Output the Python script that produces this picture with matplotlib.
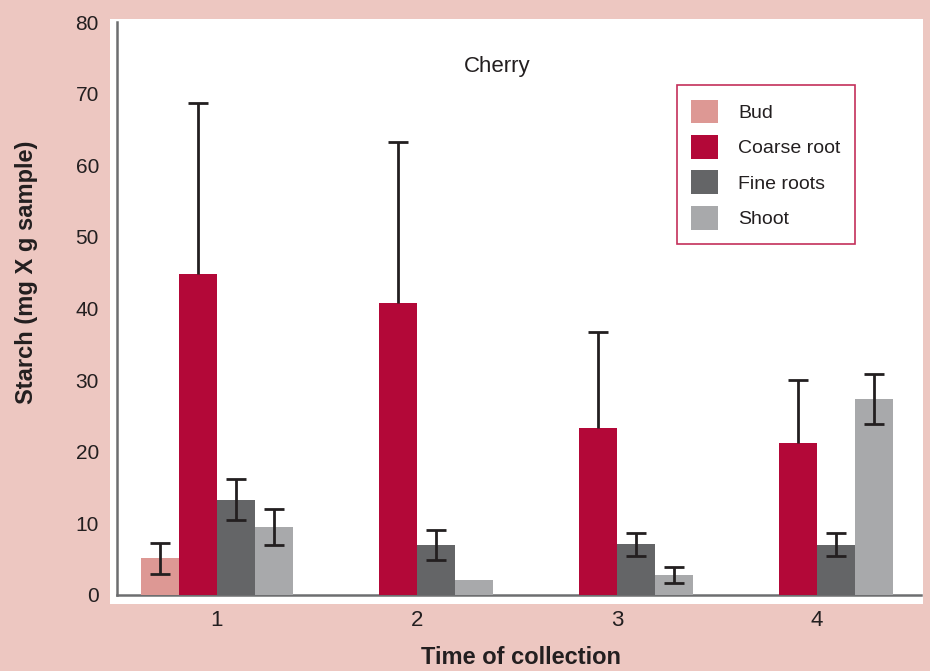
import numpy as np
import matplotlib
matplotlib.use('Agg')
import matplotlib.pyplot as plt
from matplotlib.patches import Patch

plt.rcParams['font.family'] = ['Liberation Sans', 'DejaVu Sans']

# Datos
grupos = ['1', '2', '3', '4']
series = ['Bud', 'Coarse root', 'Fine roots', 'Shoot']
bud = [5.1, 0, 0, 0]
bud_err = [2.2, np.nan, np.nan, np.nan]
coarse = [44.8, 40.8, 23.3, 21.2]
coarse_err_up = [23.9, 22.5, 13.4, 8.8]
fine = [13.3, 7.0, 7.1, 7.0]
fine_err = [2.9, 2.1, 1.6, 1.6]
shoot = [9.5, 2.1, 2.8, 27.4]
shoot_err = [2.5, np.nan, 1.1, 3.5]

colores = ['#dd9894', '#b30838', '#646567', '#a8a9ab']
fondo = '#edc7c1'
negro = '#231f20'

fig = plt.figure(figsize=(9.30, 6.71), dpi=100, facecolor=fondo)
W, H = 930, 671
# área blanca del gráfico en píxeles
x0, x1, y0, y1 = 110, 923, 19, 604
ax = fig.add_axes([x0 / W, 1 - y1 / H, (x1 - x0) / W, (y1 - y0) / H])
ax.set_facecolor('white')

pos = np.arange(1, len(grupos) + 1)
w = 0.19
offs = [-1.5 * w, -0.5 * w, 0.5 * w, 1.5 * w]
valores = [bud, coarse, fine, shoot]
for v, c, o in zip(valores, colores, offs):
    ax.bar(pos + o, v, width=w, color=c, edgecolor='none', zorder=2)

ebk = dict(fmt='none', ecolor=negro, elinewidth=2, capsize=7, capthick=2, zorder=3)
ax.errorbar(pos + offs[0], bud, yerr=bud_err, **ebk)
eb = ax.errorbar(pos + offs[1], coarse, yerr=[np.zeros(4), coarse_err_up], **ebk)
eb[1][0].set_visible(False)  # sin tapa inferior
ax.errorbar(pos + offs[2], fine, yerr=fine_err, **ebk)
ax.errorbar(pos + offs[3], shoot, yerr=shoot_err, **ebk)

ax.set_xlim(0.465, 4.53)
ax.set_ylim(-1.26, 80.42)

# ejes dibujados a mano
ax.plot([0.5, 0.5], [0, 80], color='#6d6e70', lw=1.8, zorder=1, clip_on=False)
ax.plot([0.5, 4.52], [0, 0], color='#6d6e70', lw=1.8, zorder=1, clip_on=False)
for s in ax.spines.values():
    s.set_visible(False)

ax.set_yticks(np.arange(0, 81, 10))
ax.set_xticks(pos)
ax.set_xticklabels(grupos)
ax.tick_params(axis='y', length=0, pad=8, labelsize=15, labelcolor='#231f20')
ax.tick_params(axis='x', length=0, pad=4, labelsize=16, labelcolor='#231f20')

ax.text(0.476, 0.918, 'Cherry', transform=ax.transAxes, ha='center', va='center',
        fontsize=16, color=negro)

handles = [Patch(facecolor=c, edgecolor='none') for c in colores]
leg = ax.legend(handles, series, loc='upper left', bbox_to_anchor=(0.697, 0.887),
                borderaxespad=0, fancybox=False, framealpha=1, fontsize=14,
                handlelength=1.4, handleheight=1.5, handletextpad=1.0,
                labelspacing=0.6, borderpad=0.75)
leg.get_frame().set_edgecolor('#c4305a')
leg.get_frame().set_linewidth(1.2)
for t in leg.get_texts():
    t.set_color(negro)

fig.text(521 / W, 1 - 658 / H, 'Time of collection', ha='center', va='center',
         fontsize=17, fontweight='bold', color=negro)
fig.text(27 / W, 1 - 272 / H, 'Starch (mg X g sample)', ha='center', va='center',
         rotation=90, fontsize=17, fontweight='bold', color=negro)

fig.savefig('out.png', dpi=100, facecolor=fondo)
